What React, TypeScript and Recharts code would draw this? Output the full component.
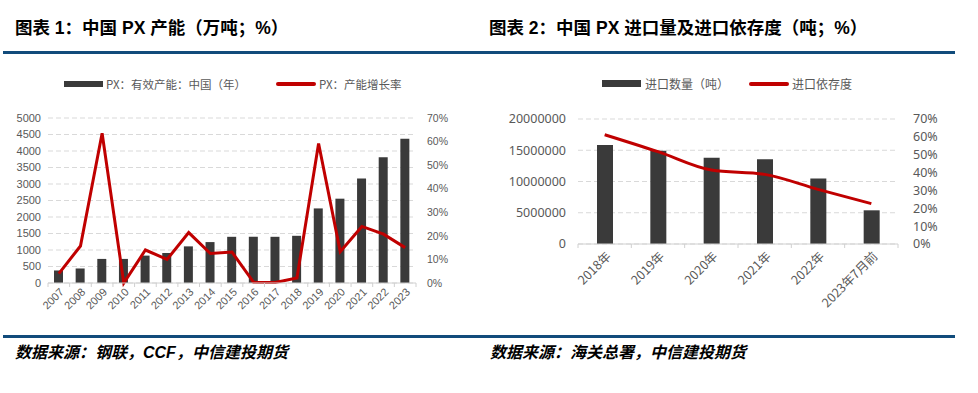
import React from 'react';
import { ComposedChart, Bar, Line, XAxis, YAxis, CartesianGrid } from 'recharts';

const years1 = ['2007','2008','2009','2010','2011','2012','2013','2014','2015','2016','2017','2018','2019','2020','2021','2022','2023'];
const capacity = [380,440,730,730,830,910,1110,1240,1400,1400,1400,1430,2260,2555,3165,3810,4370];
const growth = [4.0,15.7,63.5,0,14,10,21.4,12.5,13.1,0.3,0.2,2.1,59.2,13.3,24,20.7,15];
const capTicks = [0,500,1000,1500,2000,2500,3000,3500,4000,4500,5000];
const pctTicks = [0,10,20,30,40,50,60,70];

const cats2 = ['2018年','2019年','2020年','2021年','2022年','2023年7月前'];
const imports = [15840000,14930000,13810000,13550000,10500000,5390000];
const dependence = [61.2,51.7,41.4,39.0,30.6,22.6];
const impTicks = [0,5000000,10000000,15000000,20000000];

const data1 = years1.map((y, i) => ({ name: y, cap: capacity[i], g: growth[i] }));
const data2 = cats2.map((c, i) => ({ name: c, imp: imports[i], dep: dependence[i] }));

const BAR = '#3A3A3A';
const RED = '#C00000';
const BLUE = '#114B7B';
const TXT = '#595959';
const AXIS = '#D0D0D0';

// chart geometry
const C1 = { w: 490, h: 260, m: { top: 58, right: 24, bottom: 7, left: 8 }, yl: 40, yr: 50 };
const C2 = { w: 488, h: 260, m: { top: 59, right: 20, bottom: 16, left: 8 }, yl: 80, yr: 60 };
const band1 = (C1.w - C1.m.left - C1.m.right - C1.yl - C1.yr) / years1.length;
const band2 = (C2.w - C2.m.left - C2.m.right - C2.yl - C2.yr) / cats2.length;

const makeTick = (band: number, n: number, fs: number, dx: number, dy: number, family: string) => (props: any) => {
  const { x, y, payload, index } = props;
  const lx = x - band / 2;
  const rx = x + band / 2;
  return (
    <g>
      <line x1={lx} y1={y} x2={lx} y2={y + 4} stroke={AXIS} strokeWidth={1} />
      {index === n - 1 && <line x1={rx} y1={y} x2={rx} y2={y + 4} stroke={AXIS} strokeWidth={1} />}
      <text
        x={x + dx}
        y={y + dy}
        transform={`rotate(-45, ${x + dx}, ${y + dy})`}
        textAnchor="end"
        dy="0.35em"
        fontSize={fs}
        fill={TXT}
        fontFamily={family}
      >
        {payload.value}
      </text>
    </g>
  );
};

const Tick1 = makeTick(band1, years1.length, 11, 3, 7, "'Liberation Sans', Arial, sans-serif");
const Tick2 = makeTick(band2, cats2.length, 12.5, 4, 10, "'Noto Sans CJK SC', 'Noto Sans', sans-serif");

const abs = (s: React.CSSProperties): React.CSSProperties => ({ position: 'absolute', whiteSpace: 'nowrap', ...s });

export default function App() {
  const titleFont = "'Liberation Sans', 'Noto Sans CJK SC', sans-serif";
  const cjk = "'Noto Sans CJK SC', sans-serif";
  return (
    <div style={{ position: 'absolute', left: 0, top: 0, width: 978, height: 393, background: '#fff', overflow: 'hidden' }}>
      {/* titles */}
      <div style={abs({ left: 15, top: 17, fontSize: 17.5, fontWeight: 'bold', lineHeight: '22px', fontFamily: titleFont, color: '#000' })}>
        图表 1：中国 PX 产能（万吨；%）
      </div>
      <div style={abs({ left: 489, top: 17, fontSize: 17.5, fontWeight: 'bold', lineHeight: '22px', fontFamily: titleFont, color: '#000' })}>
        图表 2：中国 PX 进口量及进口依存度（吨；%）
      </div>
      <div style={abs({ left: 3, top: 51, width: 952, height: 3, background: BLUE })} />
      <div style={abs({ left: 3, top: 335, width: 952, height: 3, background: BLUE })} />

      {/* legends chart 1 */}
      <div style={abs({ left: 64, top: 81, width: 39, height: 6, background: BAR })} />
      <div style={abs({ left: 106, top: 76, fontSize: 11.5, lineHeight: '16px', color: TXT, fontFamily: cjk })}>PX：有效产能：中国（年）</div>
      <div style={abs({ left: 276, top: 82, width: 40, height: 4, background: RED, borderRadius: 2 })} />
      <div style={abs({ left: 319, top: 76, fontSize: 11.5, lineHeight: '16px', color: TXT, fontFamily: cjk })}>PX：产能增长率</div>

      {/* legends chart 2 */}
      <div style={abs({ left: 602, top: 80, width: 39, height: 7, background: BAR })} />
      <div style={abs({ left: 645, top: 75, fontSize: 12, lineHeight: '17px', color: TXT, fontFamily: cjk })}>进口数量（吨）</div>
      <div style={abs({ left: 749, top: 82, width: 40, height: 4, background: RED, borderRadius: 2 })} />
      <div style={abs({ left: 792, top: 75, fontSize: 12, lineHeight: '17px', color: TXT, fontFamily: cjk })}>进口依存度</div>

      {/* chart 1 */}
      <div style={abs({ left: 0, top: 60 })}>
        <ComposedChart width={C1.w} height={C1.h} data={data1} margin={C1.m}>
          <CartesianGrid yAxisId="l" vertical={false} stroke="#D9D9D9" strokeDasharray="5 3" />
          <XAxis dataKey="name" height={30} tickSize={0} tickMargin={0} interval={0} axisLine={{ stroke: AXIS }} tickLine={false} tick={Tick1} />
          <YAxis yAxisId="l" width={C1.yl} domain={[0, 5000]} ticks={capTicks} interval={0} axisLine={false} tickLine={false} tickSize={0} tickMargin={7}
            tick={{ fontSize: 11, fill: TXT, fontFamily: "'Liberation Sans', Arial, sans-serif" }} />
          <YAxis yAxisId="r" orientation="right" width={C1.yr} domain={[0, 70]} ticks={pctTicks} interval={0} axisLine={false} tickLine={false} tickSize={0} tickMargin={11}
            tickFormatter={(v: number) => `${v}%`}
            tick={{ fontSize: 10.5, fill: TXT, fontFamily: "'Liberation Sans', Arial, sans-serif" }} />
          <Bar yAxisId="l" dataKey="cap" fill={BAR} barSize={9} isAnimationActive={false} />
          <Line yAxisId="r" dataKey="g" type="linear" stroke={RED} strokeWidth={3} dot={false} activeDot={false} isAnimationActive={false} />
        </ComposedChart>
      </div>

      {/* chart 2 */}
      <div style={abs({ left: 490, top: 60 })}>
        <ComposedChart width={C2.w} height={C2.h} data={data2} margin={C2.m}>
          <CartesianGrid yAxisId="l" vertical={false} stroke="#D9D9D9" strokeDasharray="5 3" />
          <XAxis dataKey="name" height={60} tickSize={0} tickMargin={0} interval={0} axisLine={{ stroke: AXIS }} tickLine={false} tick={Tick2} />
          <YAxis yAxisId="l" width={C2.yl} domain={[0, 20000000]} ticks={impTicks} interval={0} axisLine={false} tickLine={false} tickSize={0} tickMargin={12}
            tickFormatter={(v: number) => String(v)}
            tick={{ fontSize: 12.5, fill: TXT, fontFamily: "'Noto Sans', sans-serif" }} />
          <YAxis yAxisId="r" orientation="right" width={C2.yr} domain={[0, 70]} ticks={pctTicks} interval={0} axisLine={false} tickLine={false} tickSize={0} tickMargin={15}
            tickFormatter={(v: number) => `${v}%`}
            tick={{ fontSize: 12.5, fill: TXT, fontFamily: "'Noto Sans', sans-serif" }} />
          <Bar yAxisId="l" dataKey="imp" fill={BAR} barSize={16} isAnimationActive={false} />
          <Line yAxisId="r" dataKey="dep" type="monotone" stroke={RED} strokeWidth={3} dot={false} activeDot={false} isAnimationActive={false} />
        </ComposedChart>
      </div>

      {/* sources */}
      <div style={abs({ left: 15, top: 342, fontSize: 16, fontWeight: 'bold', fontStyle: 'italic', lineHeight: '22px', color: '#000', fontFamily: titleFont })}>
        数据来源：钢联，CCF，中信建投期货
      </div>
      <div style={abs({ left: 490, top: 342, fontSize: 16, fontWeight: 'bold', fontStyle: 'italic', lineHeight: '22px', color: '#000', fontFamily: titleFont })}>
        数据来源：海关总署，中信建投期货
      </div>
    </div>
  );
}
